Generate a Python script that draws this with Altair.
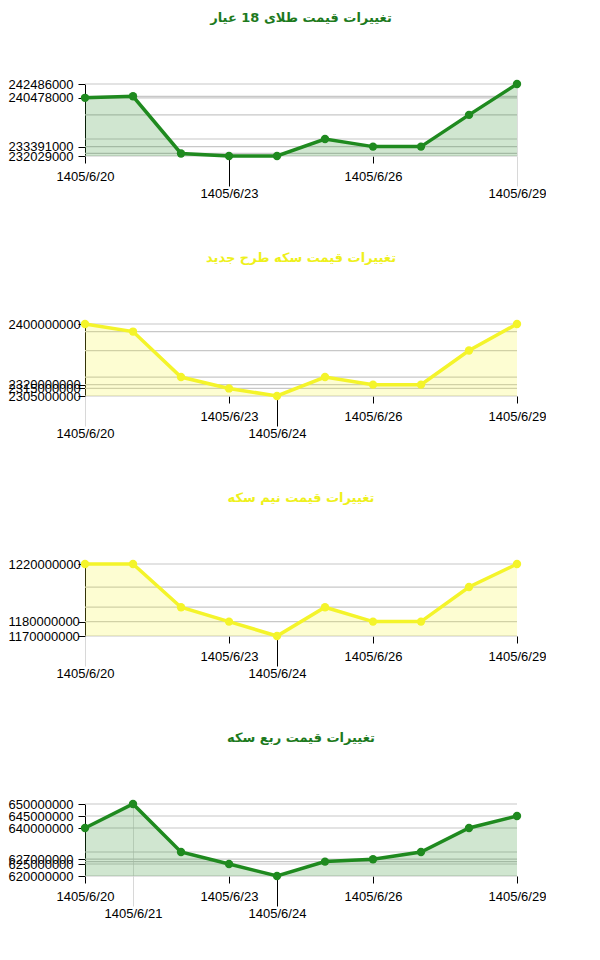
import altair as alt
import pandas as pd

days = [20, 21, 22, 23, 24, 25, 26, 27, 28, 29]

gold18 = [240478000, 240700000, 232400000, 232029000, 232029000,
          234500000, 233391000, 233391000, 238000000, 242486000]
coin_new = [2400000000, 2390000000, 2330000000, 2315000000, 2305000000,
            2330000000, 2320000000, 2320000000, 2365000000, 2400000000]
coin_half = [1220000000, 1220000000, 1190000000, 1180000000, 1170000000,
             1190000000, 1180000000, 1180000000, 1204000000, 1220000000]
coin_quarter = [640000000, 650000000, 630000000, 625000000, 620000000,
                626000000, 627000000, 630000000, 640000000, 645000000]

titles = ["تغییرات قیمت طلای 18 عیار",
          "تغییرات قیمت سکه طرح جدید",
          "تغییرات قیمت نیم سکه",
          "تغییرات قیمت ربع سکه"]

y_ticks = [
    [242486000, 240478000, 233391000, 232029000],
    [2400000000, 2320000000, 2315000000, 2305000000],
    [1220000000, 1180000000, 1170000000],
    [650000000, 645000000, 640000000, 627000000, 625000000, 620000000],
]

x_labels = [[20, 23, 26, 29], [20, 23, 24, 26, 29], [20, 23, 24, 26, 29], [20, 21, 23, 24, 26, 29]]
x_lower = [[23, 29], [20, 24], [20, 24], [21, 24]]
x_faint = [[29], [20], [20], [21]]

GREEN = "#1f8a1f"
YELLOW = "#f4f42a"
TITLE_GREEN = "#1d7a1d"
TITLE_YELLOW = "#eef01c"

LABEL_FONT = "Liberation Sans"


def panel(values, title, line_color, title_color, yticks, xlabels, lower, faint):
    df = pd.DataFrame({"day": days, "value": values})
    grid_df = pd.DataFrame({"value": sorted(set(values))})
    lo, hi = min(values), max(values)
    low_test = f"indexof({lower}, datum.value) >= 0"
    faint_test = f"indexof({faint}, datum.value) >= 0"

    x = alt.X(
        "day:Q",
        scale=alt.Scale(domain=[20, 29], nice=False, zero=False),
        axis=alt.Axis(
            values=xlabels,
            labelExpr="'1405/6/' + datum.value",
            title=None,
            domain=False,
            grid=True,
            gridColor="#dddddd",
            gridOpacity={"condition": {"test": faint_test, "value": 1}, "value": 0},
            tickColor={"condition": {"test": faint_test, "value": "#d8d8d8"}, "value": "black"},
            tickSize={"condition": {"test": low_test, "value": 30}, "value": 7},
            labelPadding={"condition": {"test": low_test, "value": 1}, "value": 7},
            labelFlush=False,
            labelOverlap=False,
            labelFont=LABEL_FONT,
            labelFontSize=13,
            labelColor="black",
        ),
    )
    y = alt.Y(
        "value:Q",
        scale=alt.Scale(domain=[lo, hi], nice=False, zero=False),
        axis=alt.Axis(
            values=yticks,
            format="d",
            title=None,
            grid=False,
            labelAlign="left",
            labelBaseline="middle",
            labelPadding=70,
            tickSize=7,
            tickColor="black",
            domainColor="black",
            labelFlush=False,
            labelOverlap=False,
            labelFont=LABEL_FONT,
            labelFontSize=13,
            labelColor="black",
        ),
    )

    grid = alt.Chart(grid_df).mark_rule(color="#c8c8c8", strokeWidth=1.2).encode(y=y)
    area = alt.Chart(df).mark_area(color=line_color, opacity=0.21).encode(
        x=x, y=y, y2=alt.datum(lo)
    )
    line = alt.Chart(df).mark_line(color=line_color, strokeWidth=3.5).encode(x=x, y=y)
    pts = alt.Chart(df).mark_circle(color=line_color, size=70, opacity=1).encode(x=x, y=y)

    return alt.layer(grid, area, line, pts).properties(
        width=432,
        height=72,
        title=alt.TitleParams(
            title,
            color=title_color,
            font="DejaVu Sans",
            fontSize=13,
            fontWeight="bold",
            anchor="middle",
            offset=52,
        ),
    )


series = [gold18, coin_new, coin_half, coin_quarter]
line_colors = [GREEN, YELLOW, YELLOW, GREEN]
title_colors = [TITLE_GREEN, TITLE_YELLOW, TITLE_YELLOW, TITLE_GREEN]

panels = [
    panel(series[i], titles[i], line_colors[i], title_colors[i],
          y_ticks[i], x_labels[i], x_lower[i], x_faint[i])
    for i in range(4)
]

chart = alt.vconcat(*panels, spacing=52).properties(
    padding={"left": 0, "top": 4, "right": 0, "bottom": 0}
).configure_view(stroke=None)

chart.save("out.html", embed_options={"renderer": "svg", "actions": False})
